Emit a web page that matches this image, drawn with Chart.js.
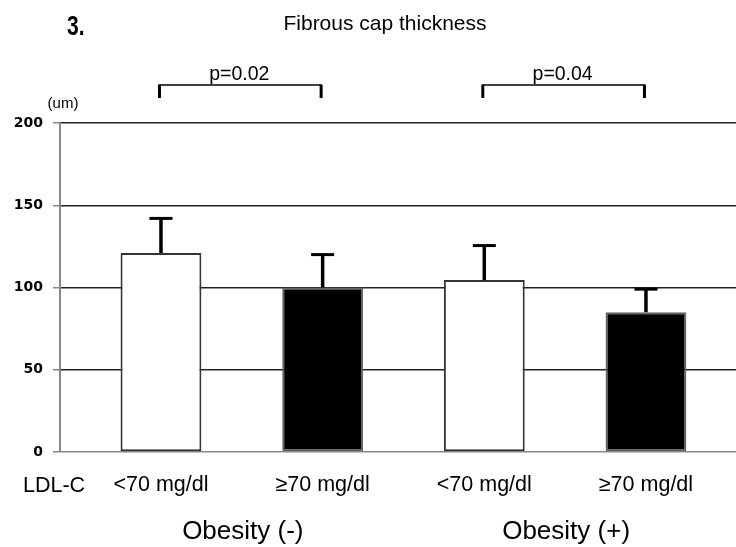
<!DOCTYPE html>
<html>
<head>
<meta charset="utf-8">
<script src="https://cdn.jsdelivr.net/npm/chart.js@4/dist/chart.umd.min.js"></script>
<style>
  html, body { margin: 0; padding: 0; background: #fff; }
  #wrap { width: 736px; height: 547px; }
</style>
</head>
<body>
<div id="wrap"><canvas id="capChart" width="736" height="547"></canvas></div>
<script>
// datos
const panelLabel = '3.';
const chartTitle = 'Fibrous cap thickness';
const yUnit = '(um)';
const rowLabel = 'LDL-C';
const ldlLabels = ['<70 mg/dl', '≥70 mg/dl', '<70 mg/dl', '≥70 mg/dl'];
const groupLabels = ['Obesity (-)', 'Obesity (+)'];
const capMean = [121, 100, 104.5, 85];
const capSD = [21, 20, 21, 14];
const pValues = ['p=0.02', 'p=0.04'];
const yTicks = [0, 50, 100, 150, 200];

const FONT = '"Liberation Sans", Arial, sans-serif';

// barras de error (solo hacia arriba) y textos sueltos
const annotations = {
    id: 'annotations',
    afterDatasetsDraw(chart) {
        const ctx = chart.ctx;
        const y = chart.scales.y;
        const meta = chart.getDatasetMeta(0);
        ctx.save();
        ctx.strokeStyle = '#000';
        meta.data.forEach((bar, i) => {
            const top = y.getPixelForValue(capMean[i]);
            const tip = y.getPixelForValue(capMean[i] + capSD[i]);
            ctx.lineWidth = 3.5;
            ctx.beginPath();
            ctx.moveTo(bar.x, top);
            ctx.lineTo(bar.x, tip);
            ctx.stroke();
            ctx.lineWidth = 3;
            ctx.beginPath();
            ctx.moveTo(bar.x - 11.5, tip);
            ctx.lineTo(bar.x + 11.5, tip);
            ctx.stroke();
        });
        ctx.restore();
    },
    afterDraw(chart) {
        const ctx = chart.ctx;
        const x = chart.scales.x;
        const area = chart.chartArea;
        ctx.save();
        ctx.fillStyle = '#000';
        ctx.textBaseline = 'alphabetic';

        // numero del panel, letra estrecha
        ctx.save();
        ctx.translate(67, 35);
        ctx.scale(0.78, 1);
        ctx.textAlign = 'left';
        ctx.font = 'bold 27px ' + FONT;
        ctx.fillText(panelLabel, 0, 0);
        ctx.restore();

        ctx.textAlign = 'center';
        ctx.font = '21px ' + FONT;
        ctx.fillText(chartTitle, 385, 30);

        ctx.font = '15px ' + FONT;
        ctx.fillText(yUnit, 63, 108);

        // corchetes de significancia
        pValues.forEach((p, g) => {
            const x1 = x.getPixelForValue(g * 2) - 1.5;
            const x2 = x.getPixelForValue(g * 2 + 1) - 1.5;
            const yTop = area.top - 38;
            const yLeg = area.top - 25;
            ctx.strokeStyle = '#000';
            ctx.lineWidth = 1.5;
            ctx.beginPath();
            ctx.moveTo(x1, yTop);
            ctx.lineTo(x2, yTop);
            ctx.stroke();
            ctx.lineWidth = 3;
            ctx.beginPath();
            ctx.moveTo(x1, yTop - 0.5);
            ctx.lineTo(x1, yLeg);
            ctx.moveTo(x2, yTop - 0.5);
            ctx.lineTo(x2, yLeg);
            ctx.stroke();
            ctx.font = '19.5px ' + FONT;
            ctx.fillText(p, (x1 + x2) / 2 - 1, yTop - 5);
        });

        ctx.textAlign = 'left';
        ctx.font = '21.5px ' + FONT;
        ctx.fillText(rowLabel, 23, 492);

        ctx.textAlign = 'center';
        ctx.font = '26px ' + FONT;
        groupLabels.forEach((label, g) => {
            const cx = (x.getPixelForValue(g * 2) + x.getPixelForValue(g * 2 + 1)) / 2;
            ctx.fillText(label, cx + 1, 539);
        });
        ctx.restore();
    }
};

const ctx = document.getElementById('capChart').getContext('2d');
const capChart = new Chart(ctx, {
    type: 'bar',
    data: {
        datasets: [{
            data: capMean.map((v, i) => ({ x: i, y: v })),
            backgroundColor: ['#fff', '#000', '#fff', '#000'],
            borderColor: ['#333', '#666', '#333', '#666'],
            borderWidth: 2,
            borderSkipped: false,
            categoryPercentage: 1,
            barPercentage: 0.5
        }]
    },
    options: {
        responsive: false,
        animation: false,
        layout: { padding: { top: 123, left: 0, right: 0, bottom: 0 } },
        plugins: {
            legend: { display: false },
            tooltip: { enabled: false },
            title: { display: false }
        },
        scales: {
            x: {
                type: 'linear',
                min: -0.6246,
                max: 3.557,
                offset: false,
                grid: { display: false, drawTicks: false },
                border: { display: false },
                afterBuildTicks(scale) {
                    scale.ticks = ldlLabels.map((_, i) => ({ value: i }));
                },
                afterFit(scale) { scale.height = 95; },
                ticks: {
                    autoSkip: false,
                    maxRotation: 0,
                    padding: 20,
                    color: '#000',
                    font: { family: FONT, size: 21.5 },
                    callback: value => ldlLabels[value]
                }
            },
            y: {
                min: 0,
                max: 200,
                afterBuildTicks(scale) {
                    scale.ticks = yTicks.map(v => ({ value: v }));
                },
                afterFit(scale) { scale.width = 60; },
                grid: {
                    color: c => c.tick && c.tick.value === 0 ? '#888' : '#222',
                    lineWidth: 1.5,
                    tickLength: 7,
                    tickColor: '#888'
                },
                border: { color: '#888', width: 2 },
                ticks: {
                    padding: 10,
                    color: '#000',
                    font: { family: '"DejaVu Sans", sans-serif', size: 14, weight: 'bold' }
                }
            }
        }
    },
    plugins: [annotations]
});
</script>
</body>
</html>
